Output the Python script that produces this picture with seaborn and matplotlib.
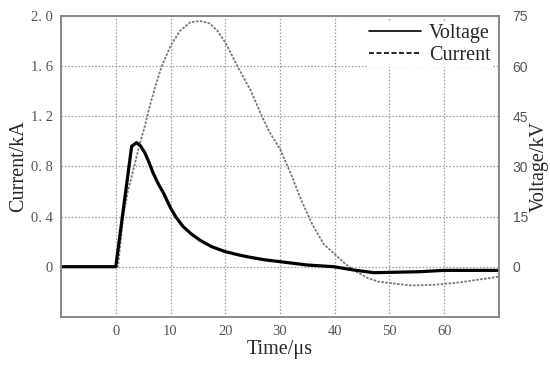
import matplotlib
matplotlib.use("Agg")
import matplotlib.pyplot as plt
from matplotlib.lines import Line2D
import seaborn as sns
import pandas as pd
import numpy as np

# current (kA)
t_cur = [-10, 0, 0.4, 1.35, 2.2, 3.2, 4.2, 5.3, 6.2, 7.3, 8.4, 10, 11.7, 13.6, 15.4, 17.2, 18.6,
         20, 22.1, 24.6, 26.7, 28, 30, 32, 34, 36, 38, 40, 42, 44, 46, 48, 50, 54, 58, 62, 66, 70]
current = [0, 0, 0, 0.40, 0.60, 0.77, 0.95, 1.12, 1.28, 1.45, 1.60, 1.76, 1.88, 1.95, 1.96, 1.94,
           1.88, 1.79, 1.61, 1.41, 1.20, 1.08, 0.94, 0.74, 0.52, 0.33, 0.18, 0.10, 0.02, -0.04,
           -0.09, -0.12, -0.13, -0.15, -0.145, -0.13, -0.105, -0.08]

# voltage (kV)
t_vol = [-10, 0, 2.9, 3.8, 4.5, 5.3, 6, 6.8, 7.7, 8.7, 10, 11, 12.3, 13.8, 15.4, 17.5, 20, 22.5,
         24.6, 27, 30, 35, 39.8, 43.5, 47.2, 55.5, 60, 70]
voltage = [0, 0, 36.0, 37.1, 36.2, 34.1, 31.5, 28.1, 25.0, 22.1, 17.6, 14.8, 12.0, 9.8, 7.9, 6.0,
           4.5, 3.5, 2.8, 2.1, 1.5, 0.5, 0.0, -1.0, -1.8, -1.5, -1.1, -1.1]

x_ticks = [0, 10, 20, 30, 40, 50, 60]
left_ticks = [0, 0.4, 0.8, 1.2, 1.6, 2.0]
left_labels = ["0", "0. 4", "0. 8", "1. 2", "1. 6", "2. 0"]
right_ticks = [0, 15, 30, 45, 60, 75]

df_c = pd.DataFrame({"t": t_cur, "I": current})
df_v = pd.DataFrame({"t": t_vol, "U": voltage})

sns.set_style("white")
plt.rcParams["font.family"] = ["Liberation Serif", "DejaVu Serif"]

fig = plt.figure(figsize=(5.5, 3.71), dpi=100)
ax = fig.add_axes([0.111, 0.146, 0.796, 0.811])
ax2 = ax.twinx()

sns.lineplot(data=df_c, x="t", y="I", ax=ax, color="#777777", lw=1.3,
             linestyle=(0, (1.4, 0.8)))
sns.lineplot(data=df_v, x="t", y="U", ax=ax2, color="black", lw=2.3)

ax.set_xlim(-10, 70)
ax.set_ylim(-0.4, 2.0)
ax2.set_ylim(-15, 75)

ax.set_xticks(x_ticks)
ax.set_yticks(left_ticks)
ax.set_yticklabels(left_labels)
ax2.set_yticks(right_ticks)
ax.tick_params(length=0, labelsize=10.5, labelcolor="#555555", pad=6)
ax2.tick_params(length=0, labelsize=10, labelcolor="#555555", pad=10)
for lab in ax2.get_yticklabels():
    lab.set_family("Liberation Sans")

ax.grid(True, color="#999999", linestyle=(0, (1.2, 1.5)), lw=0.9)
ax.set_axisbelow(True)

for a in (ax, ax2):
    for s in a.spines.values():
        s.set_color("#8a8a8a")
        s.set_linewidth(1.3)

ax.set_xlabel("Time/μs", fontsize=14.5, labelpad=1)
ax.set_ylabel("Current/kA", fontsize=14.5, labelpad=2)
ax2.set_ylabel("Voltage/kV", fontsize=14.5, labelpad=1)

handles = [Line2D([], [], color="black", lw=1.2),
           Line2D([], [], color="black", lw=1.2, linestyle=(0, (3, 1.5)))]
leg = ax2.legend(handles, ["Voltage", "Current"], loc="upper right", fontsize=14.5,
                 frameon=True, framealpha=1, edgecolor="none", fancybox=False,
                 borderpad=0.1, labelspacing=0.15, handlelength=2.6, handletextpad=0.4,
                 borderaxespad=0.3)

fig.savefig("out.png", dpi=100)
